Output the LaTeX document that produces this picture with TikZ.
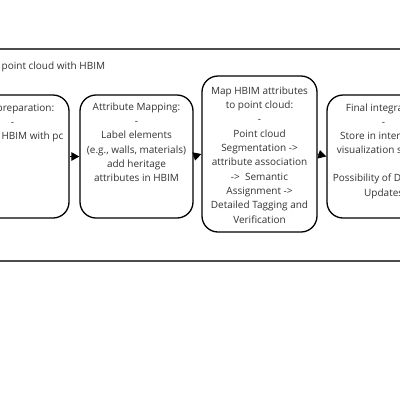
\documentclass[tikz,border=0pt]{standalone}
\usepackage{fontspec}
\setmainfont{Open Sans}
\usetikzlibrary{arrows.meta}
\begin{document}
\begin{tikzpicture}[x=1pt,y=-1pt,
  box/.style={draw=black,line width=1.3pt,rounded corners=16pt,minimum width=113pt,inner sep=0pt},
  txt/.style={inner sep=0pt,text=black!80,font=\fontsize{10}{14.3}\selectfont},
  mtxt/.style={txt,align=center,anchor=north},
  frame/.style={draw=black!70,line width=1.6pt},
  arr/.style={draw=black,line width=1pt,-{Triangle[length=8pt,width=8.5pt]}}]
\useasboundingbox (0,0) rectangle (400,400);
\clip (0,0) rectangle (400,400);
\fill[white] (0,0) rectangle (400,400);
% outer frame
\node[frame,minimum width=460pt,minimum height=212pt,inner sep=0pt] (fr) at (200,155) {};
\node[txt,anchor=base west] (title) at (1.5,69.5) {point cloud with HBIM};
% boxes
\node[box,minimum height=123pt] (b1) at (12.5,156.5) {};
\node[box,minimum height=123pt] (b2) at (136.5,156.5) {};
\node[box,minimum width=115pt,minimum height=156pt] (b3) at (259.5,154) {};
\node[box,minimum height=123pt] (b4) at (383.5,156.5) {};
% box 1 text
\node[txt,anchor=base east] (t1a) at (54.5,111.2) {preparation:};
\node[txt,anchor=base] (t1b) at (12.5,125.2) {-};
\node[txt,anchor=base east] (t1c) at (63.5,139.5) {HBIM with pc};
% box 2 text
\node[mtxt] (t2) at (136.5,102.5) {Attribute Mapping:\\-\\Label elements\\(e.g., walls, materials)\\add heritage\\attributes in HBIM};
% box 3 text
\node[mtxt] (t3) at (259.5,86.5) {Map HBIM attributes\\to point cloud:\\-\\Point cloud\\Segmentation ->\\attribute association\\->\ \ Semantic\\Assignment ->\\Detailed Tagging and\\Verification};
% box 4 text
\node[txt,anchor=base west] (t4a) at (345.7,111.2) {Final integra};
\node[txt,anchor=base] (t4b) at (383.5,125.2) {-};
\node[txt,anchor=base west] (t4c) at (340,139.2) {Store in inter};
\node[txt,anchor=base west] (t4d) at (336.7,153.5) {visualization s};
\node[txt,anchor=base west] (t4e) at (332.7,181.8) {Possibility of D};
\node[txt,anchor=base west] (t4f) at (364,196.2) {Updates};
% arrows
\draw[arr] (b1.east) -- (b2.west);
\draw[arr] (b2.east) -- (b3.west);
\draw[arr] (b3.east) -- (b4.west);
\end{tikzpicture}
\end{document}
